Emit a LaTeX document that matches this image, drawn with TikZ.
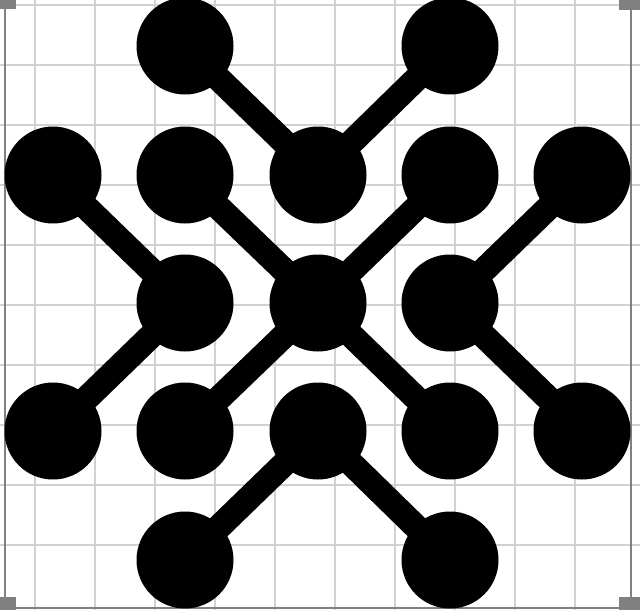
\documentclass[tikz,border=0pt]{standalone}
\begin{document}
\begin{tikzpicture}[x=1pt,y=-1pt,
  dot/.style={circle,fill=black,inner sep=0pt,minimum size=97pt},
  bond/.style={line width=25pt,black},
  gridline/.style={line width=1.2pt,black!18},
  frame/.style={line width=2pt,black!50},
  corner/.style={fill=black!50}]
\useasboundingbox (0,0) rectangle (640,610);
\fill[white] (0,0) rectangle (640,610);
% grid
\foreach \x in {35,95,...,575} \draw[gridline] (\x,0) -- (\x,610);
\foreach \y in {5,65,...,545} \draw[gridline] (0,\y) -- (640,\y);
% frame
\draw[frame] (4.5,0) -- (4.5,608) -- (631,608) -- (631,0);
\fill[corner] (0,0) rectangle (16,9);
\fill[corner] (619,0) rectangle (640,10);
\fill[corner] (0,597) rectangle (16,610);
\fill[corner] (619,597) rectangle (640,610);
% nodes
\node[dot] (t1) at (185,46) {};
\node[dot] (t2) at (450,46) {};
\node[dot] (a1) at (53,175) {};
\node[dot] (a2) at (185,175) {};
\node[dot] (a3) at (318,175) {};
\node[dot] (a4) at (450,175) {};
\node[dot] (a5) at (582,175) {};
\node[dot] (m1) at (185,303) {};
\node[dot] (m2) at (318,303) {};
\node[dot] (m3) at (450,303) {};
\node[dot] (b1) at (53,431) {};
\node[dot] (b2) at (185,431) {};
\node[dot] (b3) at (318,431) {};
\node[dot] (b4) at (450,431) {};
\node[dot] (b5) at (582,431) {};
\node[dot] (c1) at (185,560) {};
\node[dot] (c2) at (450,560) {};
% bonds
\draw[bond] (t1.center) -- (a3.center);
\draw[bond] (t2.center) -- (a3.center);
\draw[bond] (a1.center) -- (m1.center);
\draw[bond] (m1.center) -- (b1.center);
\draw[bond] (a2.center) -- (m2.center);
\draw[bond] (a4.center) -- (m2.center);
\draw[bond] (m2.center) -- (b2.center);
\draw[bond] (m2.center) -- (b4.center);
\draw[bond] (a5.center) -- (m3.center);
\draw[bond] (m3.center) -- (b5.center);
\draw[bond] (b3.center) -- (c1.center);
\draw[bond] (b3.center) -- (c2.center);
\end{tikzpicture}
\end{document}
